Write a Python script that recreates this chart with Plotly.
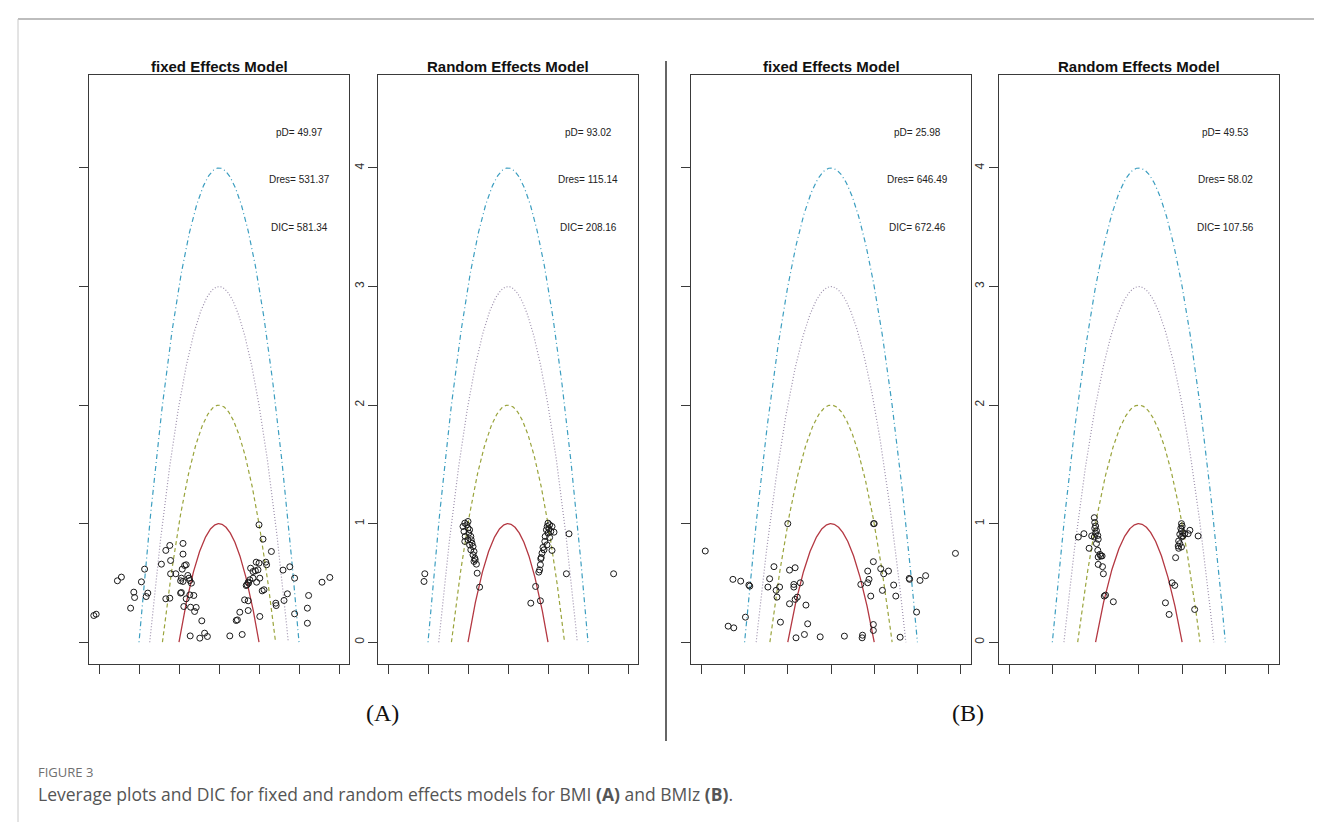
import numpy as np
import plotly.graph_objects as go

# ---------------- data ----------------
panel_titles = ["fixed Effects Model", "Random Effects Model", "fixed Effects Model", "Random Effects Model"]
stats_pD = ["49.97", "93.02", "25.98", "49.53"]
stats_Dres = ["531.37", "115.14", "646.49", "58.02"]
stats_DIC = ["581.34", "208.16", "672.46", "107.56"]
contour_levels = [1, 2, 3, 4]
x_ticks = [-3, -2, -1, 0, 1, 2, 3]
y_ticks = [0, 1, 2, 3, 4]
y_ticklabels = ["0", "1", "2", "3", "4"]

# Panel A, fixed effects (x = deviance residual, y = leverage)
fA_x = [-3.30, -3.30, -3.13, -3.07, -2.54, -2.44, -2.21, -2.13, -2.11, -1.94, -1.86, -1.82, -1.78,
        -1.44, -1.33, -1.23, -1.21, -1.21, -1.33, -1.23, -1.08, -0.90, -0.90, -0.92, -0.86, -0.82,
        -0.94, -0.96, -0.90, -0.78, -0.75, -0.73, -0.69, -0.94, -0.96, -0.73, -0.63, -0.82, -0.88,
        -0.71, -0.57, -0.61, -0.43, -0.72, -0.48, -0.36, -0.29,
        0.27, 0.58, 0.46, 0.43, 0.52, 0.73, 0.64, 0.73, 1.02, 0.70, 0.73, 0.68, 0.77, 0.74, 0.85,
        0.94, 1.02, 0.79, 0.91, 0.975, 1.00, 1.08, 1.125, 0.93, 0.85, 1.17, 1.19, 1.00, 1.10, 1.31,
        1.42, 1.43, 1.625, 1.60, 1.77, 1.71, 1.89, 1.89, 2.21, 2.21, 2.24, 2.575, 2.77]
fA_y = [0.498, 0.273, 0.225, 0.236, 0.518, 0.549, 0.287, 0.422, 0.377, 0.509, 0.616, 0.385, 0.414,
        0.658, 0.774, 0.816, 0.689, 0.577, 0.366, 0.371, 0.577, 0.833, 0.743, 0.616, 0.647, 0.653,
        0.540, 0.518, 0.512, 0.563, 0.540, 0.520, 0.498, 0.419, 0.414, 0.399, 0.394, 0.366, 0.301,
        0.295, 0.293, 0.259, 0.180, 0.053, 0.034, 0.076, 0.048,
        0.053, 0.065, 0.188, 0.183, 0.253, 0.267, 0.357, 0.349, 0.217, 0.484, 0.506, 0.478, 0.526,
        0.498, 0.540, 0.506, 0.540, 0.624, 0.602, 0.610, 0.667, 0.433, 0.442, 0.675, 0.596, 0.675,
        0.653, 0.990, 0.869, 0.765, 0.329, 0.309, 0.352, 0.608, 0.636, 0.408, 0.540, 0.239, 0.287,
        0.160, 0.394, 0.506, 0.546]

# Panel A, random effects
rA_x = [-2.08, -2.10, -0.71, -0.77,
        -1.08, -1.00, -1.03, -1.125, -1.00, -1.10, -0.96, -0.98, -1.07, -0.93, -1.00, -0.92, -1.08,
        -0.90, -0.96, -0.875, -0.93, -0.85, -0.875, -0.83, -0.82, -0.85, -0.79,
        1.00, 1.04, 0.98, 1.10, 1.025, 0.96, 1.07, 1.15, 1.00, 0.93, 1.04, 0.92, 0.975, 0.875, 0.90,
        1.10, 0.85, 0.83, 0.82, 0.81, 0.79, 0.77, 1.525, 1.46, 2.64, 0.69, 0.81, 0.57]
rA_y = [0.577, 0.512, 0.464, 0.582,
        1.004, 1.018, 0.990, 0.976, 0.962, 0.934, 0.948, 0.920, 0.892, 0.892, 0.864, 0.864, 0.850,
        0.835, 0.821, 0.807, 0.779, 0.765, 0.737, 0.709, 0.695, 0.681, 0.658,
        1.004, 0.990, 0.976, 0.976, 0.956, 0.948, 0.934, 0.928, 0.920, 0.892, 0.883, 0.850, 0.821,
        0.799, 0.779, 0.774, 0.751, 0.714, 0.703, 0.653, 0.610, 0.591, 0.914, 0.577, 0.577, 0.470,
        0.349, 0.329]

# Panel B, fixed effects
fB_x = [-2.91, -2.27, -2.09, -1.90, -1.88, -1.98, -2.38, -2.25, -1.32, -1.42, -1.46, -1.27, -1.19,
        -1.25, -1.17, -1.00, -0.96, -0.83, -0.86, -0.86, -0.71, -0.78, -0.83, -0.96, -0.58, -0.54,
        -0.615, -0.81, -0.25, 0.31, 0.73, 0.72, 0.69, 0.85, 0.88, 0.85, 0.98, 1.00, 0.985, 0.92,
        0.98, 0.98, 1.15, 1.22, 1.33, 1.19, 1.45, 1.50, 1.60, 1.81, 1.82, 1.98, 2.06, 2.19, 2.88]
fB_y = [0.769, 0.530, 0.515, 0.482, 0.473, 0.211, 0.135, 0.121, 0.637, 0.535, 0.465, 0.437, 0.465,
        0.380, 0.169, 1.000, 0.608, 0.628, 0.487, 0.465, 0.501, 0.380, 0.361, 0.324, 0.313, 0.155,
        0.065, 0.037, 0.045, 0.051, 0.059, 0.037, 0.487, 0.501, 0.530, 0.600, 0.679, 1.000, 1.000,
        0.389, 0.149, 0.099, 0.620, 0.577, 0.600, 0.437, 0.482, 0.389, 0.042, 0.538, 0.530, 0.254,
        0.521, 0.561, 0.749]

# Panel B, random effects
rB_x = [-1.03, -1.02, -1.00, -1.02, -0.98, -1.00, -0.95, -1.03, -0.94, -1.09, -0.98, -0.95, -0.90,
        -0.88, -0.85, -0.94, -0.94, -0.84, -0.82, -1.40, -1.27, -1.15, -0.77, -0.80, -0.59,
        0.985, 1.00, 0.97, 0.985, 1.02, 0.946, 1.06, 0.985, 0.92, 1.02, 0.946, 0.91, 0.985, 0.92,
        1.14, 1.18, 1.37, 0.85, 0.77, 0.83, 0.615, 0.70, 1.29]
rB_y = [1.05, 1.01, 0.98, 0.96, 0.94, 0.92, 0.90, 0.887, 0.868, 0.896, 0.831, 0.775, 0.741, 0.727,
        0.727, 0.718, 0.656, 0.637, 0.577, 0.887, 0.915, 0.792, 0.397, 0.389, 0.341,
        1.000, 0.980, 0.960, 0.938, 0.924, 0.910, 0.915, 0.887, 0.854, 0.896, 0.831, 0.811, 0.803,
        0.792, 0.915, 0.944, 0.896, 0.713, 0.501, 0.479, 0.332, 0.234, 0.276]

points_x = [fA_x, rA_x, fB_x, rB_x]
points_y = [fA_y, rA_y, fB_y, rB_y]

# ---------------- styling ----------------
W, H = 1322, 822
x_range = [-3.24, 3.24]
y_range = [-0.184, 4.784]
# panel boxes in pixels (left, right), shared top/bottom
boxes_px = [(81.4, 340.6), (370.4, 629.6), (683.0, 963.0), (990.7, 1271.0)]
box_top, box_bottom = 67.0, 656.0
show_ylabels = [False, True, False, True]

curve_styles = {
    1: dict(color="#B43842", dash="solid", width=1.3),
    2: dict(color="#9AA43C", dash="4px,3px", width=1.2),
    3: dict(color="#9D90AC", dash="1px,2px", width=1.2),
    4: dict(color="#3C9EC0", dash="1px,3px,5px,3px", width=1.2),
}
FONT = "Liberation Sans, Arial, sans-serif"

fig = go.Figure()
layout = dict(
    width=W, height=H, margin=dict(l=0, r=0, t=0, b=0),
    paper_bgcolor="white", plot_bgcolor="white", showlegend=False,
)
annotations = []
shapes = []

def px_x(p):
    return p / W

def px_y(p):
    return 1 - p / H

for i in range(4):
    xa = "x" if i == 0 else f"x{i+1}"
    ya = "y" if i == 0 else f"y{i+1}"
    xkey = "xaxis" if i == 0 else f"xaxis{i+1}"
    ykey = "yaxis" if i == 0 else f"yaxis{i+1}"
    l, r = boxes_px[i]
    layout[xkey] = dict(
        domain=[px_x(l), px_x(r)], range=x_range, anchor=ya,
        showline=True, mirror=True, linecolor="#3a3a3a", linewidth=1,
        ticks="outside", ticklen=9, tickcolor="#3a3a3a", tickwidth=1,
        tickvals=x_ticks, showticklabels=False, showgrid=False, zeroline=False,
    )
    layout[ykey] = dict(
        domain=[px_y(box_bottom), px_y(box_top)], range=y_range, anchor=xa,
        showline=True, mirror=True, linecolor="#3a3a3a", linewidth=1,
        ticks="outside", ticklen=9, tickcolor="#3a3a3a", tickwidth=1,
        tickvals=y_ticks, ticktext=y_ticklabels, tickangle=-90,
        showticklabels=show_ylabels[i], tickfont=dict(family=FONT, size=12, color="#333"),
        showgrid=False, zeroline=False,
    )
    # contour parabolas
    for c in contour_levels:
        xs = np.linspace(-np.sqrt(c), np.sqrt(c), 241)
        ys = c - xs ** 2
        st = curve_styles[c]
        fig.add_trace(go.Scatter(
            x=xs, y=ys, mode="lines", xaxis=xa, yaxis=ya, hoverinfo="skip",
            line=dict(color=st["color"], dash=st["dash"], width=st["width"]),
        ))
    # observations
    fig.add_trace(go.Scatter(
        x=points_x[i], y=points_y[i], mode="markers", xaxis=xa, yaxis=ya, cliponaxis=False,
        marker=dict(symbol="circle-open", size=6, color="#1a1a1a", line=dict(width=1, color="#1a1a1a")),
    ))
    # title
    annotations.append(dict(
        x=px_x((l + r) / 2), y=px_y(58), xref="paper", yref="paper",
        text=f"<b>{panel_titles[i]}</b>", showarrow=False, xanchor="center", yanchor="middle",
        font=dict(family=FONT, size=15, color="#111"),
    ))
    # DIC statistics
    for txt, yy in [(f"pD= {stats_pD[i]}", 4.3), (f"Dres= {stats_Dres[i]}", 3.9), (f"DIC= {stats_DIC[i]}", 3.5)]:
        annotations.append(dict(
            x=2, y=yy, xref=xa, yref=ya, text=txt, showarrow=False,
            xanchor="center", yanchor="middle", font=dict(family=FONT, size=10, color="#222"),
        ))

# (A) / (B) labels
annotations.append(dict(x=px_x(356), y=px_y(720), xref="paper", yref="paper", text="(A)",
                        showarrow=False, font=dict(family="Liberation Serif, Times New Roman, serif", size=24, color="#111")))
annotations.append(dict(x=px_x(978), y=px_y(720), xref="paper", yref="paper", text="(B)",
                        showarrow=False, font=dict(family="Liberation Serif, Times New Roman, serif", size=24, color="#111")))
# caption
annotations.append(dict(x=px_x(28), y=px_y(764), xref="paper", yref="paper", text="FIGURE 3",
                        showarrow=False, xanchor="left", yanchor="middle",
                        font=dict(family="Open Sans, Lato, sans-serif", size=13, color="#707070")))
annotations.append(dict(x=px_x(28), y=px_y(786), xref="paper", yref="paper",
                        text="Leverage plots and DIC for fixed and random effects models for BMI <b>(A)</b> and BMIz <b>(B)</b>.",
                        showarrow=False, xanchor="left", yanchor="middle",
                        font=dict(family="Open Sans, Lato, sans-serif", size=17.5, color="#555")))

# frame lines
shapes.append(dict(type="line", xref="paper", yref="paper", x0=px_x(10), x1=1, y0=px_y(11), y1=px_y(11),
                   line=dict(color="#bdbdbd", width=2)))
shapes.append(dict(type="line", xref="paper", yref="paper", x0=px_x(10), x1=px_x(10), y0=px_y(11), y1=px_y(818),
                   line=dict(color="#c8c8c8", width=1)))
shapes.append(dict(type="line", xref="paper", yref="paper", x0=px_x(658), x1=px_x(658), y0=px_y(53), y1=px_y(733),
                   line=dict(color="#333", width=1.5)))

layout["annotations"] = annotations
layout["shapes"] = shapes
fig.update_layout(**layout)
fig.write_html("out.html")
